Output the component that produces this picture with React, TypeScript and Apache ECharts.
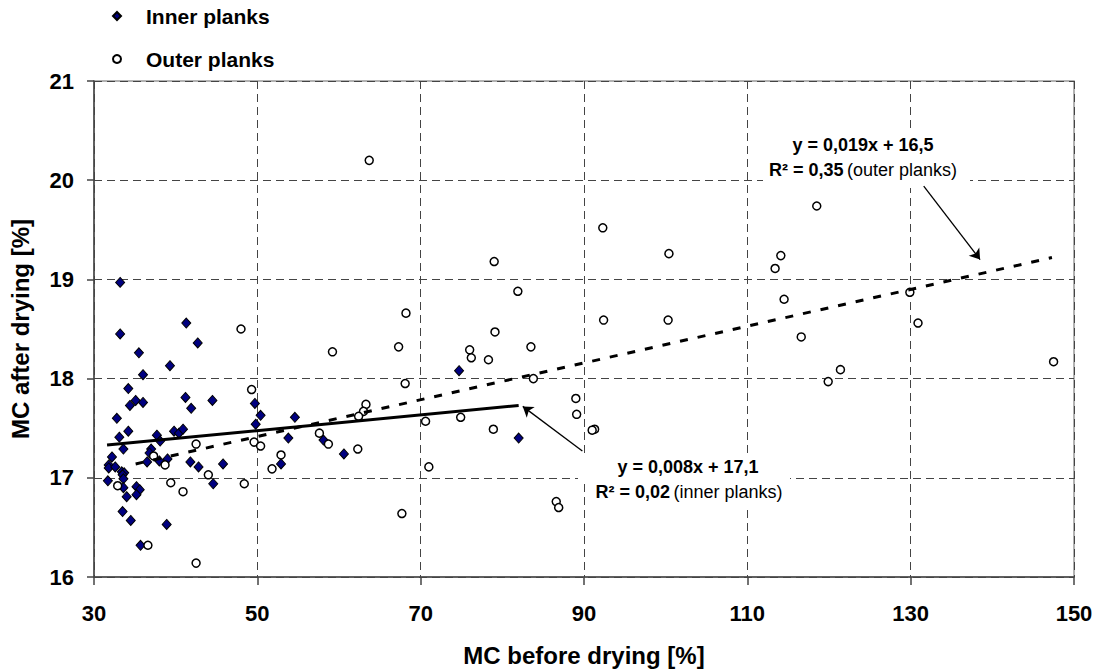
import React, { useEffect, useRef } from "react";
import * as echarts from "echarts";

const innerX = [33.2, 33.2, 41.3, 35.5, 42.7, 39.3, 36.0, 34.2, 35.1, 34.4, 36.0, 41.2, 41.9, 44.5, 32.8, 33.1, 34.2, 37.7, 38.1, 39.8, 40.4, 40.9, 49.7, 50.4, 49.8, 33.6, 37.0, 36.8, 32.2, 31.8, 31.8, 32.6, 36.5, 38.0, 39.0, 41.8, 42.8, 45.8, 33.4, 33.7, 33.5, 33.6, 31.7, 33.6, 35.2, 35.6, 35.2, 34.0, 44.6, 33.5, 34.5, 38.9, 35.7, 54.6, 53.8, 58.1, 52.9, 60.6, 82.0, 74.7];
const innerY = [18.97, 18.45, 18.56, 18.26, 18.36, 18.13, 18.04, 17.9, 17.78, 17.73, 17.76, 17.81, 17.7, 17.78, 17.6, 17.41, 17.47, 17.43, 17.37, 17.47, 17.45, 17.49, 17.75, 17.63, 17.54, 17.29, 17.29, 17.25, 17.21, 17.13, 17.1, 17.11, 17.16, 17.17, 17.19, 17.16, 17.11, 17.14, 17.06, 17.05, 17.03, 16.99, 16.97, 16.9, 16.91, 16.88, 16.83, 16.81, 16.94, 16.66, 16.57, 16.53, 16.32, 17.61, 17.4, 17.38, 17.14, 17.24, 17.4, 18.08];

const outerX = [48.0, 49.3, 42.5, 49.6, 50.4, 37.3, 38.7, 51.8, 52.9, 32.9, 39.4, 40.9, 44.0, 48.4, 36.6, 42.5, 68.1, 83.8, 63.3, 63.0, 62.4, 57.6, 58.7, 62.3, 70.6, 74.9, 78.9, 71.0, 67.7, 86.6, 86.9, 63.7, 79.0, 81.9, 68.2, 59.2, 67.3, 76.0, 76.2, 79.1, 78.3, 83.5, 118.5, 92.3, 100.4, 114.1, 113.4, 114.5, 92.4, 100.3, 116.6, 119.9, 121.4, 89.0, 89.1, 91.3, 91.0, 129.9, 130.9, 147.5];
const outerY = [18.5, 17.89, 17.34, 17.36, 17.32, 17.22, 17.13, 17.09, 17.23, 16.92, 16.95, 16.86, 17.03, 16.94, 16.32, 16.14, 17.95, 18.0, 17.74, 17.67, 17.62, 17.45, 17.34, 17.29, 17.57, 17.61, 17.49, 17.11, 16.64, 16.76, 16.7, 20.2, 19.18, 18.88, 18.66, 18.27, 18.32, 18.29, 18.21, 18.47, 18.19, 18.32, 19.74, 19.52, 19.26, 19.24, 19.11, 18.8, 18.59, 18.59, 18.42, 17.97, 18.09, 17.8, 17.64, 17.49, 17.48, 18.87, 18.56, 18.17];

// trend line end points as drawn
const innerTrend = [[31.6, 17.33], [82.0, 17.73]];
const outerTrend = [[35.1, 17.14], [147.3, 19.22]];

// annotation arrows (from label to line)
const innerArrow = [[89.8, 17.27], [82.5, 17.72]];
const outerArrow = [[131.6, 19.94], [138.5, 19.2]];

const seriesNames = ["Inner planks", "Outer planks"];
const xTitle = "MC before drying [%]";
const yTitle = "MC after drying [%]";
const outerEq = "y = 0,019x + 16,5";
const outerR2 = "R² = 0,35";
const outerTag = "(outer planks)";
const innerEq = "y = 0,008x + 17,1";
const innerR2 = "R² = 0,02";
const innerTag = "(inner planks)";

const FONT = "'Liberation Sans', Arial, Helvetica, sans-serif";

export default function App() {
  const ref = useRef<HTMLDivElement>(null);
  useEffect(() => {
    if (!ref.current) return;
    const chart = echarts.init(ref.current, null, { renderer: "svg" });
    const inner = innerX.map((x, i) => [x, innerY[i]]);
    const outer = outerX.map((x, i) => [x, outerY[i]]);
    const rich = {
      b: { fontFamily: FONT, fontSize: 18, fontWeight: "bold", color: "#000" },
      n: { fontFamily: FONT, fontSize: 18, fontWeight: "normal", color: "#000" },
    };
    chart.setOption({
      animation: false,
      backgroundColor: "#fff",
      textStyle: { fontFamily: FONT },
      grid: { left: 93, right: 24, top: 81, bottom: 90, show: true, borderColor: "#999", borderWidth: 1.5 },
      legend: {
        data: seriesNames,
        orient: "vertical",
        left: 112,
        top: 4,
        padding: 0,
        itemWidth: 8,
        itemHeight: 8,
        itemGap: 19,
        textStyle: { fontFamily: FONT, fontSize: 21, fontWeight: "bold", color: "#000", lineHeight: 24, padding: [0, 0, 0, 20] },
      },
      xAxis: {
        type: "value",
        min: 30,
        max: 150,
        interval: 20,
        name: xTitle,
        nameLocation: "middle",
        nameGap: 66,
        nameTextStyle: { fontFamily: FONT, fontSize: 24, fontWeight: "bold", color: "#000" },
        axisLine: { show: true, lineStyle: { color: "#444", width: 1.5 } },
        axisTick: { show: true, length: 8, lineStyle: { color: "#444", width: 1.5 } },
        splitLine: { show: true, lineStyle: { type: [8, 5], color: "#444", width: 1 } },
        axisLabel: { fontFamily: FONT, fontSize: 22, fontWeight: "bold", color: "#000", margin: 25 },
      },
      yAxis: {
        type: "value",
        min: 16,
        max: 21,
        interval: 1,
        name: yTitle,
        nameLocation: "middle",
        nameGap: 62,
        nameRotate: 90,
        nameTextStyle: { fontFamily: FONT, fontSize: 24, fontWeight: "bold", color: "#000" },
        axisLine: { show: true, lineStyle: { color: "#444", width: 1.5 } },
        axisTick: { show: true, length: 7, lineStyle: { color: "#444", width: 1.5 } },
        splitLine: { show: true, lineStyle: { type: [8, 5], color: "#444", width: 1 } },
        axisLabel: { fontFamily: FONT, fontSize: 22, fontWeight: "bold", color: "#000", margin: 20 },
      },
      series: [
        {
          name: seriesNames[0],
          type: "scatter",
          data: inner,
          symbol: "diamond",
          symbolSize: [9, 10],
          itemStyle: { color: "#000080", borderColor: "#000", borderWidth: 1, opacity: 1 },
          z: 3,
        },
        {
          name: seriesNames[1],
          type: "scatter",
          data: outer,
          symbol: "circle",
          symbolSize: 8,
          itemStyle: { color: "#fff", borderColor: "#000", borderWidth: 1.5, opacity: 1 },
          z: 3,
        },
        {
          name: "innerTrend",
          type: "line",
          data: innerTrend,
          symbol: "none",
          showSymbol: false,
          silent: true,
          z: 4,
          lineStyle: { color: "#000", width: 3, type: "solid" },
          markLine: {
            silent: true,
            symbol: ["none", "arrow"],
            symbolSize: 10,
            label: { show: false },
            lineStyle: { color: "#000", width: 1.3, type: "solid" },
            data: [[{ coord: innerArrow[0] }, { coord: innerArrow[1] }]],
          },
        },
        {
          name: "outerTrend",
          type: "line",
          data: outerTrend,
          symbol: "none",
          showSymbol: false,
          silent: true,
          z: 4,
          lineStyle: { color: "#000", width: 3, type: [8, 10] },
          markLine: {
            silent: true,
            symbol: ["none", "arrow"],
            symbolSize: 10,
            label: { show: false },
            lineStyle: { color: "#000", width: 1.3, type: "solid" },
            data: [[{ coord: outerArrow[0] }, { coord: outerArrow[1] }]],
          },
        },
      ],
      graphic: [
        { type: "rect", z: 1, shape: { x: 763, y: 130, width: 207, height: 58 }, style: { fill: "#fff" } },
        { type: "rect", z: 1, shape: { x: 578, y: 453, width: 212, height: 28 }, style: { fill: "#fff" } },
        { type: "rect", z: 1, shape: { x: 586, y: 481, width: 204, height: 25 }, style: { fill: "#fff" } },
        {
          type: "text", z: 10, x: 863, y: 145,
          style: { text: `{b|${outerEq}}`, rich, align: "center", verticalAlign: "middle" },
        },
        {
          type: "text", z: 10, x: 863, y: 170,
          style: { text: `{b|${outerR2}} {n|${outerTag}}`, rich, align: "center", verticalAlign: "middle" },
        },
        {
          type: "text", z: 10, x: 688, y: 467,
          style: { text: `{b|${innerEq}}`, rich, align: "center", verticalAlign: "middle" },
        },
        {
          type: "text", z: 10, x: 689, y: 492,
          style: { text: `{b|${innerR2}} {n|${innerTag}}`, rich, align: "center", verticalAlign: "middle" },
        },
      ],
    });
    return () => chart.dispose();
  }, []);
  return (
    <div
      ref={ref}
      style={{ position: "fixed", left: 0, top: 0, width: 1098, height: 672, background: "#fff" }}
    />
  );
}
